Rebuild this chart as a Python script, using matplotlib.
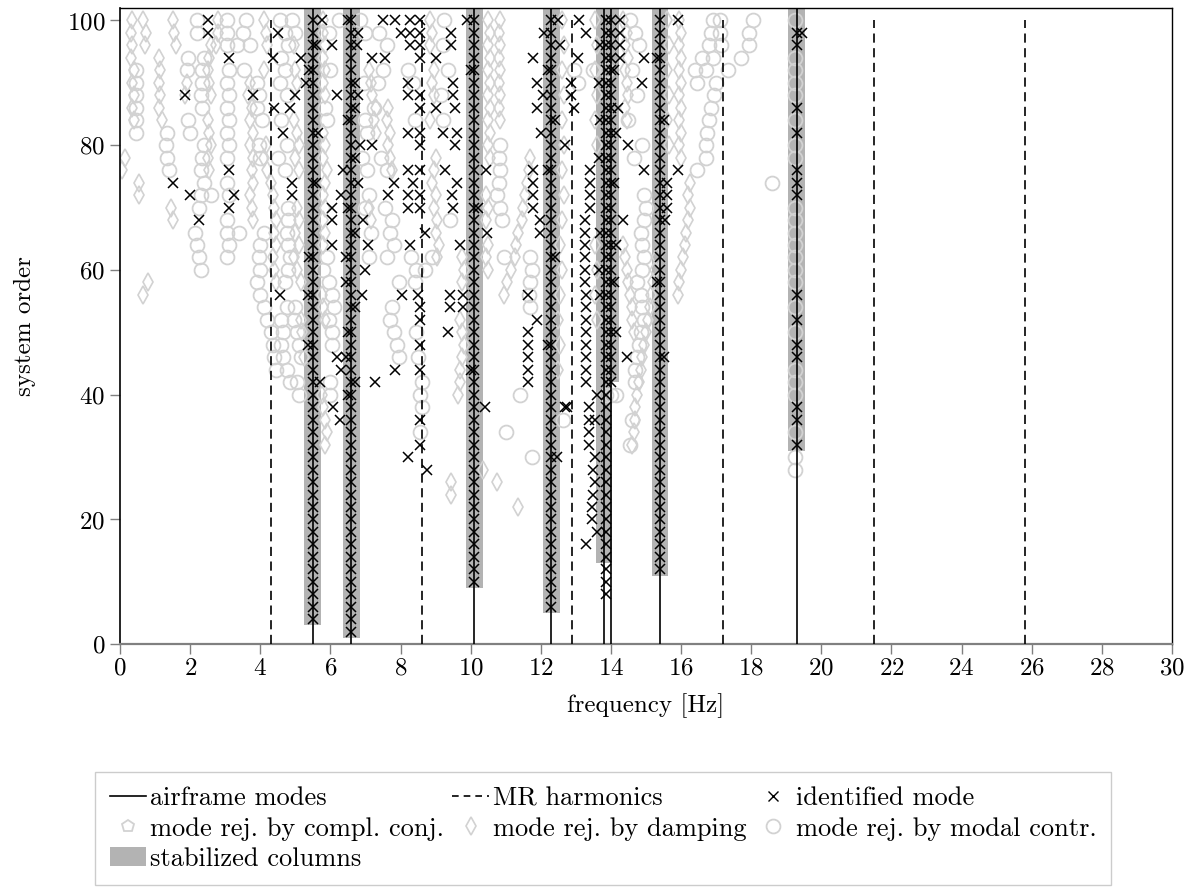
import matplotlib
matplotlib.use("Agg")
import matplotlib.pyplot as plt
from matplotlib.lines import Line2D
from matplotlib.patches import Patch

plt.rcParams['font.family'] = ['cmr10', 'DejaVu Serif']
plt.rcParams['mathtext.fontset'] = 'cm'
plt.rcParams['axes.formatter.use_mathtext'] = True

# ---------------- data ----------------
AIRFRAME_MODES = [5.5, 6.6, 10.1, 12.3, 13.8, 14.0, 15.4, 19.3]
MR_HARMONICS = [4.3, 8.6, 12.9, 17.2, 21.5, 25.8]

COL_FREQ = [5.5, 6.6, 10.1, 12.3, 13.8, 14.0, 15.4, 19.3]
COL_LOW = [3, 1, 9, 5, 13, 42, 11, 31]
COL_TOP = 102

ORDERS = [2, 4, 6, 8, 10, 12, 14, 16, 18, 20, 22, 24, 26, 28, 30, 32, 34, 36, 38, 40,
          42, 44, 46, 48, 50, 52, 54, 56, 58, 60, 62, 64, 66, 68, 70, 72, 74, 76, 78, 80,
          82, 84, 86, 88, 90, 92, 94, 96, 98, 100]

STAB_FREQ = [5.5, 6.6, 10.1, 12.3, 13.85, 14.0, 15.4]
STAB_FROM = [4, 2, 10, 6, 8, 42, 12]

COL193_X_ORDERS = [32, 36, 38, 46, 48, 52, 56, 72, 74, 76, 82, 86, 96, 98]
COL193_O_ORDERS = [28, 30, 34, 40, 42, 44, 50, 54, 58, 60, 62, 64, 66, 68, 70, 78, 80,
                   84, 88, 90, 92, 94, 100]

ident_left = [(1.5, 74), (1.85, 88), (2.0, 72), (2.25, 68), (2.5, 100), (2.5, 98), (3.1, 94),
              (3.1, 76), (3.25, 72), (3.1, 70), (3.8, 88), (4.35, 94), (4.5, 98), (4.4, 86),
              (4.65, 82), (4.85, 86), (5.0, 88), (5.15, 94), (4.9, 74), (4.9, 72), (4.55, 56),
              (5.3, 90), (5.35, 56), (5.35, 48), (5.7, 42), (5.75, 100), (5.65, 82),
              (5.6, 96), (5.4, 92), (5.6, 74), (5.4, 62)]

ident_mid = [(6.05, 96), (6.2, 88), (6.05, 70), (6.05, 68), (6.05, 64), (6.35, 76), (6.3, 72),
             (6.8, 74), (6.93, 68), (7.0, 60), (6.9, 56), (6.45, 62), (6.2, 46), (6.3, 44),
             (6.45, 46), (6.07, 38), (6.27, 36), (6.8, 98), (6.8, 88), (6.85, 80), (6.75, 96),
             (6.5, 100), (6.7, 90), (6.7, 86), (6.5, 84), (6.7, 78), (6.5, 70), (6.7, 66),
             (6.45, 58), (6.7, 54), (6.5, 50), (6.7, 42), (6.5, 40),
             (7.2, 94), (7.55, 94), (7.2, 80), (7.5, 100), (7.85, 100), (8.0, 98), (8.27, 100),
             (8.55, 100), (8.27, 98), (8.55, 98), (8.27, 96), (8.55, 96), (8.55, 94), (9.0, 94),
             (9.45, 98), (9.45, 96), (9.9, 100), (8.2, 90), (8.2, 88), (8.55, 88), (9.0, 86),
             (8.55, 86), (9.5, 90), (9.5, 88), (9.55, 86), (8.2, 82), (8.55, 82), (8.55, 80),
             (9.2, 82), (9.6, 82), (9.55, 80), (7.8, 74), (7.65, 72), (8.2, 76), (8.55, 76),
             (8.35, 74), (8.2, 72), (8.55, 72), (8.2, 70), (8.55, 70), (9.27, 76), (9.6, 74),
             (9.47, 72), (9.5, 70), (10.45, 76), (7.07, 64), (8.7, 66), (10.47, 66), (8.27, 64),
             (9.7, 64), (8.05, 56), (8.5, 56), (8.55, 54), (8.55, 52), (9.4, 56), (9.78, 56),
             (9.4, 54), (9.78, 54), (9.36, 50), (8.55, 48), (7.85, 44), (8.55, 44), (7.27, 42),
             (8.55, 36), (8.55, 32), (8.2, 30), (8.75, 28), (10.4, 38), (10.0, 92),
             (10.2, 70), (10.0, 44)]

ident_right = [(11.78, 94), (11.9, 86), (11.9, 90), (12.05, 88), (12.0, 82), (12.7, 80),
               (11.78, 76), (11.78, 74), (11.78, 72), (11.78, 70), (11.97, 68), (11.97, 66),
               (11.63, 56), (11.63, 50), (11.63, 48), (11.63, 46), (11.63, 44), (11.63, 42),
               (11.9, 52), (12.7, 38), (12.45, 30), (12.85, 90), (12.85, 88), (12.95, 86),
               (13.05, 94), (13.1, 100), (13.3, 98), (12.1, 98), (12.55, 96), (12.5, 100),
               (12.2, 92), (12.4, 84), (12.2, 76), (12.4, 62), (12.2, 48),
               (13.25, 68), (13.25, 66), (13.25, 64), (13.25, 62), (13.25, 60), (13.25, 58),
               (13.3, 56), (13.3, 54), (13.3, 52), (13.3, 50), (13.3, 48), (13.3, 46), (13.3, 44),
               (13.3, 42), (13.4, 76), (13.4, 74), (13.4, 72), (13.4, 70), (12.75, 38),
               (13.37, 38), (13.37, 36), (13.37, 34), (13.37, 32), (13.55, 30), (13.5, 28),
               (13.55, 26), (13.5, 24), (13.45, 22), (13.45, 20), (13.3, 16), (13.6, 18),
               (13.55, 36), (13.6, 40), (13.7, 96), (13.65, 90), (13.7, 84), (13.65, 78),
               (13.7, 66), (13.65, 60), (13.7, 56), (14.1, 92), (14.15, 82), (14.1, 74),
               (14.15, 64), (14.1, 58), (14.15, 50),
               (14.26, 100), (14.26, 98), (14.26, 96), (14.26, 94),
               (14.2, 86), (14.5, 80), (14.35, 68), (14.45, 46), (14.95, 94), (14.9, 90),
               (14.95, 76), (15.9, 100), (15.9, 76), (15.6, 74), (15.6, 72), (15.6, 70),
               (15.55, 68), (15.3, 94), (15.5, 84), (15.3, 58), (15.5, 46), (19.45, 98)]

modal_left = [(0.45, 82), (0.45, 84), (0.45, 86), (0.45, 88), (0.45, 90), (0.45, 92),
              (1.35, 82), (1.3, 80), (1.35, 78), (1.4, 76), (1.95, 94), (1.9, 92), (1.95, 84),
              (2.0, 82), (2.2, 100), (2.2, 98), (2.4, 94), (2.35, 92), (2.35, 90), (2.3, 88),
              (2.35, 86), (2.4, 80), (2.35, 78), (2.3, 76), (2.4, 74), (2.3, 72), (2.25, 70),
              (2.15, 66), (2.2, 64), (2.25, 62), (2.3, 60), (2.6, 72), (3.05, 100), (3.05, 98),
              (3.05, 96), (3.1, 92), (3.05, 90), (3.1, 88), (3.05, 86), (3.1, 84), (3.05, 82),
              (3.1, 80), (3.05, 78), (3.05, 74), (3.1, 72), (3.05, 68), (3.05, 66), (3.1, 64),
              (3.05, 62), (3.35, 96), (3.5, 98), (3.6, 100), (3.7, 96), (3.4, 66), (3.55, 92),
              (3.9, 90), (3.95, 88), (3.9, 86), (4.05, 84), (3.95, 80), (4.0, 78), (4.1, 66),
              (4.0, 64), (3.95, 62), (4.0, 60), (3.9, 58), (4.0, 56), (4.1, 54), (4.2, 52),
              (4.3, 50), (4.35, 48), (4.4, 46), (4.45, 44), (4.55, 100), (4.7, 98), (4.9, 100),
              (5.0, 98), (4.8, 96), (4.6, 94), (4.7, 92), (4.55, 90), (4.75, 88), (4.6, 84),
              (4.75, 80), (4.5, 78), (4.7, 76), (4.8, 70), (4.8, 68), (4.75, 66), (4.8, 64),
              (4.85, 62), (4.8, 60), (4.7, 58), (4.75, 54), (4.6, 52), (4.65, 50), (4.6, 48),
              (4.65, 46), (4.75, 44), (4.85, 42), (5.0, 54), (4.95, 52), (5.05, 50), (5.1, 48),
              (5.15, 46), (5.1, 40), (5.05, 42)]

modal_mid = [(5.8, 60), (5.9, 62), (5.95, 58), (6.05, 56), (6.1, 54), (5.95, 52), (6.05, 50),
             (6.05, 48), (6.0, 42), (6.0, 40), (5.85, 86), (5.9, 84), (6.0, 92), (5.95, 98),
             (6.25, 100), (6.85, 100), (7.0, 98), (6.95, 90), (7.0, 84), (7.05, 82), (6.9, 78),
             (7.05, 76), (7.1, 72), (7.0, 70), (7.15, 66), (7.1, 62), (7.4, 98), (7.6, 96),
             (7.5, 92), (7.35, 90), (7.25, 86), (7.45, 78), (7.6, 76), (7.55, 70), (7.75, 68),
             (7.7, 66), (7.8, 64), (7.6, 62), (7.95, 58), (7.7, 52), (7.75, 54), (7.8, 50),
             (7.9, 48), (7.95, 46), (8.2, 92), (8.35, 90), (8.4, 84), (8.3, 62), (8.4, 58),
             (8.45, 60), (8.7, 60), (8.9, 62), (8.45, 50), (8.5, 46), (8.6, 42), (8.55, 40),
             (8.6, 38), (8.55, 34), (9.25, 100), (9.2, 96), (9.35, 92), (9.15, 88), (9.2, 84),
             (9.4, 68)]

modal_right = [(10.85, 80), (10.8, 78), (10.85, 76), (10.8, 74), (10.75, 72), (10.85, 70),
               (10.9, 68), (10.95, 62), (11.0, 34), (11.4, 40), (11.75, 30), (11.7, 62),
               (11.75, 60), (11.7, 58), (11.65, 56), (11.7, 54), (12.63, 36), (12.95, 92),
               (13.05, 90), (13.5, 92), (13.9, 92), (13.85, 40), (14.0, 40), (14.15, 40),
               (14.55, 100), (14.7, 98), (14.8, 96), (14.6, 92), (14.75, 88), (14.5, 84),
               (14.9, 80), (14.65, 78), (14.95, 72), (15.0, 70), (14.95, 68), (14.85, 66),
               (14.9, 64), (14.95, 62), (14.9, 60), (14.75, 58), (14.85, 56), (14.9, 54),
               (14.95, 52), (14.85, 50), (14.8, 48), (14.75, 46), (14.7, 44), (14.7, 42),
               (14.6, 36), (14.55, 32), (16.9, 100), (17.1, 100), (18.05, 100), (16.85, 98),
               (17.1, 98), (17.95, 98), (16.8, 96), (17.15, 96), (17.95, 96), (16.6, 94),
               (16.9, 94), (17.7, 94), (16.4, 92), (16.7, 92), (17.35, 92), (16.45, 90),
               (17.0, 90), (16.95, 88), (16.85, 86), (16.8, 84), (16.75, 82), (16.7, 80),
               (16.7, 78), (16.45, 76), (18.6, 74)]

damp_left = [(0.05, 76), (0.15, 78), (0.35, 100), (0.3, 98), (0.35, 96), (0.3, 94), (0.4, 92),
             (0.35, 90), (0.4, 88), (0.35, 86), (0.4, 84), (0.65, 100), (0.75, 98), (0.7, 96),
             (0.55, 74), (0.55, 72), (0.65, 56), (0.8, 58), (1.1, 94), (1.15, 92), (1.1, 90),
             (1.15, 88), (1.1, 86), (1.2, 84), (1.5, 100), (1.55, 98), (1.6, 96), (1.45, 70),
             (1.5, 68), (1.9, 90), (1.85, 88), (2.6, 96), (2.55, 94), (2.5, 92), (2.55, 90),
             (2.6, 88), (2.5, 84), (2.55, 82), (2.6, 80), (2.5, 78), (2.55, 76), (2.8, 100),
             (2.8, 98), (2.75, 96), (3.7, 90), (3.65, 88), (3.75, 86), (3.7, 84), (3.8, 82),
             (3.7, 80), (3.8, 78), (3.75, 76), (3.8, 74), (3.7, 72), (3.75, 70), (3.8, 68),
             (4.1, 100), (4.15, 98), (4.2, 96), (4.1, 92), (4.15, 80), (4.1, 78), (4.2, 76),
             (4.3, 74), (4.35, 72), (4.4, 70), (4.45, 68), (4.4, 66), (4.45, 64), (4.35, 62),
             (4.4, 60), (4.45, 58), (4.95, 96), (5.0, 92), (5.05, 90), (4.95, 84), (5.05, 82),
             (5.1, 80), (5.0, 78), (5.1, 76), (5.05, 70), (5.1, 68), (5.0, 66), (5.1, 64),
             (4.95, 62), (5.05, 60), (5.15, 58), (5.15, 52), (5.2, 50), (5.25, 46)]

damp_mid = [(5.8, 100), (5.8, 98), (5.85, 96), (5.8, 94), (5.85, 92), (5.8, 90), (5.85, 88),
            (5.8, 82), (5.85, 80), (5.8, 78), (5.9, 76), (5.85, 74), (5.8, 72), (5.85, 70),
            (5.8, 68), (5.85, 66), (5.8, 64), (5.75, 56), (5.8, 54), (5.85, 52), (5.75, 40),
            (5.8, 38), (5.85, 36), (5.9, 34), (5.85, 32), (7.1, 92), (7.15, 90), (7.2, 88),
            (7.3, 86), (7.25, 84), (7.3, 82), (7.1, 70), (7.15, 68), (7.65, 86), (7.6, 84),
            (7.7, 82), (7.65, 80), (7.7, 78), (7.75, 76), (8.85, 100), (8.9, 98), (8.85, 96),
            (8.95, 92), (8.9, 90), (8.95, 88), (8.85, 84), (9.0, 78), (8.95, 76), (8.9, 74),
            (9.0, 72), (8.95, 70), (9.05, 68), (9.0, 66), (9.1, 64), (9.05, 62), (9.75, 62),
            (9.8, 60), (9.75, 58), (9.7, 52), (9.75, 50), (9.8, 48), (9.75, 46), (9.7, 44),
            (9.7, 42), (9.65, 40), (9.45, 26), (9.45, 24), (10.35, 28), (10.75, 26),
            (11.35, 22)]

damp_right = [(10.5, 100), (10.85, 100), (10.55, 98), (10.8, 98), (10.5, 96), (10.85, 96),
              (10.55, 94), (10.8, 94), (10.5, 92), (10.85, 92), (10.55, 90), (10.8, 90),
              (10.5, 88), (10.85, 88), (10.55, 86), (10.8, 86), (10.5, 84), (10.85, 84),
              (10.55, 82), (10.5, 80), (10.55, 78), (10.45, 72), (10.5, 70), (10.45, 68),
              (10.5, 64), (10.45, 62), (10.5, 60), (10.95, 56), (11.05, 58), (11.15, 60),
              (11.25, 62), (11.3, 64), (11.35, 66), (11.45, 68), (11.5, 70), (11.55, 72),
              (11.6, 74), (11.65, 76), (11.7, 78), (12.6, 100), (12.65, 96), (12.6, 92),
              (12.65, 88), (12.6, 84), (12.65, 80), (12.6, 76), (12.65, 72), (12.6, 68),
              (12.55, 64), (12.6, 60), (12.55, 56), (12.5, 52), (12.55, 48), (12.5, 44),
              (13.55, 100), (13.6, 96), (13.55, 92), (13.6, 88), (13.55, 84), (13.6, 80),
              (13.55, 64), (13.6, 60), (13.55, 56), (13.6, 52), (14.35, 100), (14.45, 98),
              (14.4, 96), (14.5, 94), (14.4, 92), (14.45, 90), (14.5, 88), (14.4, 86),
              (14.45, 84), (14.35, 64), (14.4, 62), (14.45, 60), (14.5, 58), (14.55, 56),
              (14.6, 54), (14.6, 52), (14.65, 50), (14.6, 32), (14.65, 34), (14.7, 36),
              (14.7, 38), (14.75, 40), (14.8, 42), (14.85, 44), (14.9, 46), (14.95, 48),
              (15.0, 50), (15.05, 52), (15.1, 54), (15.15, 56), (15.2, 58), (15.25, 60),
              (15.3, 62), (15.9, 56), (15.95, 58), (16.0, 60), (16.05, 62), (16.1, 64),
              (16.15, 66), (16.2, 68), (16.25, 70), (16.2, 72), (16.25, 74), (15.95, 100),
              (16.0, 98), (15.95, 96), (16.0, 94), (15.95, 92), (16.0, 90), (15.95, 88),
              (16.0, 86), (15.95, 84), (16.0, 82), (15.95, 80), (16.0, 78), (15.6, 100),
              (15.65, 96), (15.6, 92), (15.65, 88), (15.6, 84), (15.65, 80)]

X_TICKS = [0, 2, 4, 6, 8, 10, 12, 14, 16, 18, 20, 22, 24, 26, 28, 30]
Y_TICKS = [0, 20, 40, 60, 80, 100]

# ---------------- styling ----------------
GREY_MK = '#d2d2d2'
COL_GREY = '#b3b3b3'
FS = 18
FS_LEG = 19

fig = plt.figure(figsize=(11.99, 8.88), dpi=100)
ax = fig.add_axes([120 / 1199, 1 - 644.2 / 888, (1172 - 120) / 1199, (644.2 - 8) / 888])

# stabilized columns
ax.bar(COL_FREQ, [COL_TOP - lo for lo in COL_LOW], bottom=COL_LOW, width=0.48,
       color=COL_GREY, linewidth=0, zorder=1)

def split(pts):
    return [p[0] for p in pts], [p[1] for p in pts]

# rejected by damping
df, dn = split(damp_left + damp_mid + damp_right)
ax.plot(df, dn, linestyle='none', marker='d', ms=9, mfc='none', mec=GREY_MK, mew=1.2, zorder=2)

# rejected by modal contribution
mf, mn = split(modal_left + modal_mid + modal_right)
mf += [19.25] * len(COL193_O_ORDERS)
mn += COL193_O_ORDERS
ax.plot(mf, mn, linestyle='none', marker='o', ms=10, mfc='none', mec=GREY_MK, mew=1.3, zorder=2)

# airframe modes and MR harmonics
for f in AIRFRAME_MODES:
    ax.axvline(f, color='black', lw=1.2, zorder=3)
ax.vlines(MR_HARMONICS, 0, 100, colors='black', lw=1.2, linestyles=(0, (5.5, 3.3)), zorder=3)

# identified modes
xf, xn = split(ident_left + ident_mid + ident_right)
for f, lo in zip(STAB_FREQ, STAB_FROM):
    for n in ORDERS:
        if n >= lo:
            xf.append(f)
            xn.append(n)
xf += [19.3] * len(COL193_X_ORDERS)
xn += COL193_X_ORDERS
ax.plot(xf, xn, linestyle='none', marker='x', ms=7.6, mec='black', mew=1.1, zorder=4)

ax.set_xlim(0, 30)
ax.set_ylim(0, 102)
ax.set_xticks(X_TICKS)
ax.set_yticks(Y_TICKS)
ax.tick_params(axis='both', direction='out', length=7.5, width=1.0, color='#808080',
               labelsize=FS, pad=2)
ax.tick_params(axis='y', pad=3)
for s in ['top', 'right']:
    ax.spines[s].set_linewidth(1.0)
    ax.spines[s].set_color('black')
ax.spines['left'].set_color('black')
ax.spines['left'].set_linewidth(1.2)
ax.spines['bottom'].set_color('#808080')
ax.spines['bottom'].set_linewidth(1.6)

ax.set_xlabel('frequency [Hz]', fontsize=FS, labelpad=10)
ax.set_ylabel('system order', fontsize=FS, labelpad=22)

# legend
h_air = Line2D([], [], color='black', lw=1.2)
h_mr = Line2D([], [], color='black', lw=1.2, linestyle=(0, (4, 3)))
h_id = Line2D([], [], linestyle='none', marker='x', ms=7, mec='black', mew=1.0)
h_cc = Line2D([], [], linestyle='none', marker='p', ms=9, mfc='none', mec=GREY_MK, mew=1.3)
h_dp = Line2D([], [], linestyle='none', marker='d', ms=9, mfc='none', mec=GREY_MK, mew=1.2)
h_mc = Line2D([], [], linestyle='none', marker='o', ms=10, mfc='none', mec=GREY_MK, mew=1.3)
h_st = Patch(facecolor=COL_GREY, edgecolor='none')

handles = [h_air, h_cc, h_st, h_mr, h_dp, h_id, h_mc]
labels = ['airframe modes', 'mode rej. by compl. conj.', 'stabilized columns',
          'MR harmonics', 'mode rej. by damping', 'identified mode',
          'mode rej. by modal contr.']
leg = fig.legend(handles, labels, ncol=3, loc='upper left',
                 bbox_to_anchor=(95 / 1199, 1 - 772 / 888), fontsize=FS_LEG,
                 frameon=True, fancybox=False, edgecolor='#cccccc', framealpha=1,
                 handlelength=1.4, handletextpad=0.15, columnspacing=0.3,
                 borderpad=0.55, labelspacing=0.25, borderaxespad=0)
leg.get_frame().set_linewidth(1.0)

fig.savefig('out.png', dpi=100)
